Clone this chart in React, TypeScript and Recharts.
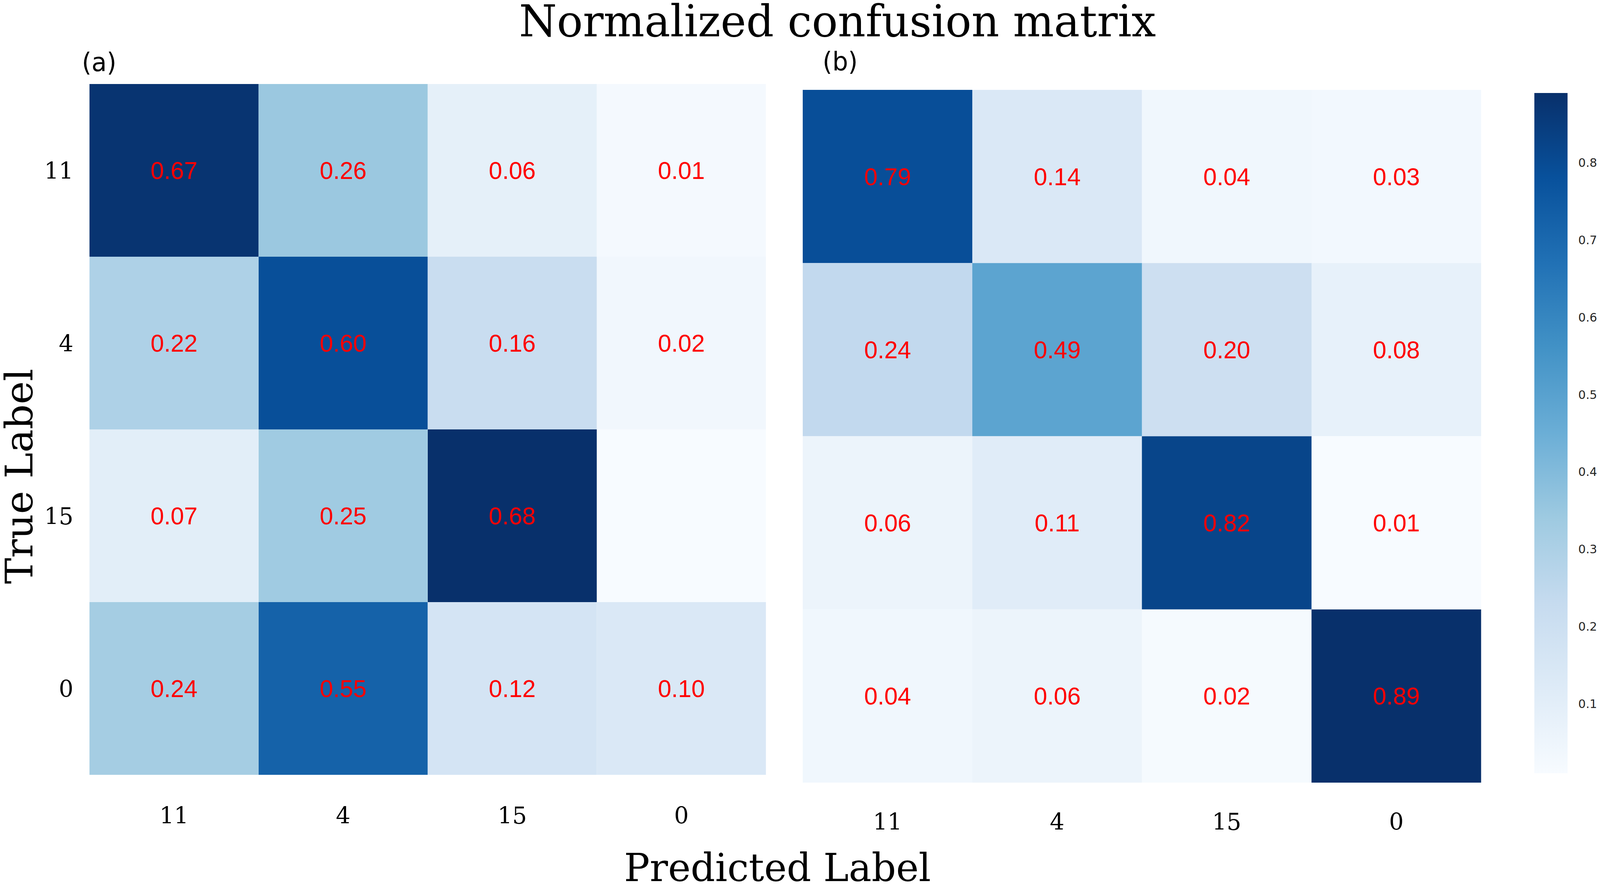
import React from "react";
import { BarChart, Bar, XAxis, YAxis, Cell, LabelList } from "recharts";

const trueLabels = ["11", "4", "15", "0"];
const predLabels = ["11", "4", "15", "0"];

// rows = true label, columns = predicted label
const matrixA = [
  [0.67, 0.26, 0.06, 0.01],
  [0.22, 0.6, 0.16, 0.02],
  [0.07, 0.25, 0.68, 0.0],
  [0.24, 0.55, 0.12, 0.1],
];

const matrixB = [
  [0.79, 0.14, 0.04, 0.03],
  [0.24, 0.49, 0.2, 0.08],
  [0.06, 0.11, 0.82, 0.01],
  [0.04, 0.06, 0.02, 0.89],
];

const colorbarTicks = [0.1, 0.2, 0.3, 0.4, 0.5, 0.6, 0.7, 0.8];

// matplotlib "Blues"
const blues = [
  "#f7fbff",
  "#deebf7",
  "#c6dbef",
  "#9ecae1",
  "#6baed6",
  "#4292c6",
  "#2171b5",
  "#08519c",
  "#08306b",
];

const SERIF = "'DejaVu Serif', serif";
const SANS = "'Liberation Sans', Arial, sans-serif";
const DSANS = "'DejaVu Sans', sans-serif";

// colorbar geometry
const CB_WIDTH = 172;
const CB_AXIS = 85;
const CB_BAR = CB_WIDTH - CB_AXIS;

// the photographed area is a little narrower than the window
const FIT_X = 0.979;

function hexToRgb(h: string) {
  return [1, 3, 5].map((i) => parseInt(h.slice(i, i + 2), 16));
}

function bluesColor(t: number) {
  const v = Math.max(0, Math.min(1, t)) * (blues.length - 1);
  const i = Math.min(Math.floor(v), blues.length - 2);
  const f = v - i;
  const a = hexToRgb(blues[i]);
  const b = hexToRgb(blues[i + 1]);
  const c = a.map((x, k) => Math.round(x + (b[k] - x) * f));
  return `rgb(${c[0]},${c[1]},${c[2]})`;
}

function buildRows(matrix: number[][]) {
  return predLabels.map((p, c) => {
    const row: any = { pred: p };
    matrix.forEach((r, i) => {
      row["u" + i] = 1;
      row["v" + i] = r[c];
    });
    return row;
  });
}

const minOf = (m: number[][]) => Math.min(...m.flat());
const maxOf = (m: number[][]) => Math.max(...m.flat());

const cellLabel = (props: any) => {
  const { x, y, width, height, value } = props;
  if (!value) return null;
  return (
    <text
      x={x + width / 2}
      y={y + height / 2 + 22}
      textAnchor="middle"
      fill="#ff0000"
      fontFamily={SANS}
      fontSize={63}
    >
      {Number(value).toFixed(2)}
    </text>
  );
};

interface HeatmapProps {
  matrix: number[][];
  width: number;
  height: number;
  top: number;
  showY: boolean;
  xLabelDy: number;
}

const Heatmap: React.FC<HeatmapProps> = ({ matrix, width, height, top, showY, xLabelDy }) => {
  const data = buildRows(matrix);
  const vmin = minOf(matrix);
  const vmax = maxOf(matrix);
  const norm = (v: number) => (v - vmin) / (vmax - vmin);

  return (
    <BarChart
      width={width}
      height={height}
      data={data}
      margin={{ top, right: 0, bottom: 0, left: 0 }}
      barCategoryGap={0}
      barGap={0}
    >
      <XAxis
        dataKey="pred"
        height={200}
        axisLine={false}
        tickLine={false}
        interval={0}
        tick={(p: any) => (
          <text
            x={p.x}
            y={p.y + xLabelDy}
            textAnchor="middle"
            fontFamily={SERIF}
            fontSize={60}
            fill="#000"
          >
            {p.payload.value}
          </text>
        )}
      />
      <YAxis
        type="number"
        domain={[0, 4]}
        reversed
        hide={!showY}
        width={234}
        ticks={[0.5, 1.5, 2.5, 3.5]}
        axisLine={false}
        tickLine={false}
        tick={(p: any) => (
          <text
            x={p.x - 34}
            y={p.y + 22}
            textAnchor="end"
            fontFamily={SERIF}
            fontSize={60}
            fill="#000"
          >
            {trueLabels[Math.floor(p.payload.value)]}
          </text>
        )}
      />
      {trueLabels.map((_, r) => (
        <Bar key={r} dataKey={"u" + r} stackId="s" isAnimationActive={false}>
          {data.map((_, c) => (
            <Cell key={c} fill={bluesColor(norm(matrix[r][c]))} />
          ))}
          <LabelList dataKey={"v" + r} content={cellLabel} />
        </Bar>
      ))}
    </BarChart>
  );
};

const cbMin = minOf(matrixB);
const cbMax = maxOf(matrixB);
const colorbarData = [{ name: "cb", range: [cbMin, cbMax] }];

const Colorbar: React.FC = () => (
  <BarChart
    width={CB_WIDTH}
    height={1979}
    data={colorbarData}
    margin={{ top: 238, right: 0, bottom: 0, left: 0 }}
    barCategoryGap={0}
  >
    <defs>
      <linearGradient id="bluesGrad" x1="0" y1="1" x2="0" y2="0">
        {blues.map((c, i) => (
          <stop key={i} offset={i / (blues.length - 1)} stopColor={c} />
        ))}
      </linearGradient>
    </defs>
    <XAxis dataKey="name" hide />
    <Bar dataKey="range" fill="url(#bluesGrad)" isAnimationActive={false} />
    <YAxis
      orientation="right"
      type="number"
      domain={[cbMin, cbMax]}
      allowDataOverflow
      width={CB_AXIS}
      ticks={colorbarTicks}
      axisLine={false}
      tickLine={false}
      tick={(p: any) => (
        <text
          x={CB_BAR + 28}
          y={p.y + 11}
          textAnchor="start"
          fontFamily={DSANS}
          fontSize={31}
          fill="#262626"
        >
          {p.payload.value.toFixed(1)}
        </text>
      )}
    />
  </BarChart>
);

export default function App() {
  return (
    <div
      style={{
        position: "absolute",
        left: 0,
        top: 0,
        width: 4184,
        height: 2265,
        background: "#fff",
        overflow: "hidden",
        transform: `scale(${FIT_X}, 1)`,
        transformOrigin: "0 0",
      }}
    >
      <div style={{ position: "absolute", left: 0, top: 0 }}>
        <Heatmap matrix={matrixA} width={2003} height={2183} top={215} showY xLabelDy={117} />
      </div>
      <div style={{ position: "absolute", left: 2099, top: 0 }}>
        <Heatmap matrix={matrixB} width={1774} height={2203} top={230} showY={false} xLabelDy={113} />
      </div>
      <div style={{ position: "absolute", left: 4012, top: 0 }}>
        <Colorbar />
      </div>
      <svg
        width={4184}
        height={2265}
        style={{ position: "absolute", left: 0, top: 0, pointerEvents: "none" }}
      >
        <text x={2190} y={93} textAnchor="middle" fontFamily={SERIF} fontSize={113} fill="#000">
          Normalized confusion matrix
        </text>
        <text x={2033} y={2255} textAnchor="middle" fontFamily={SERIF} fontSize={100} fill="#000">
          Predicted Label
        </text>
        <text
          transform="translate(85,1219) rotate(-90)"
          textAnchor="middle"
          fontFamily={SERIF}
          fontSize={100}
          fill="#000"
        >
          True Label
        </text>
        <text x={214} y={182} fontFamily={DSANS} fontSize={65} fill="#000">
          (a)
        </text>
        <text x={2151} y={180} fontFamily={DSANS} fontSize={65} fill="#000">
          (b)
        </text>
      </svg>
    </div>
  );
}
